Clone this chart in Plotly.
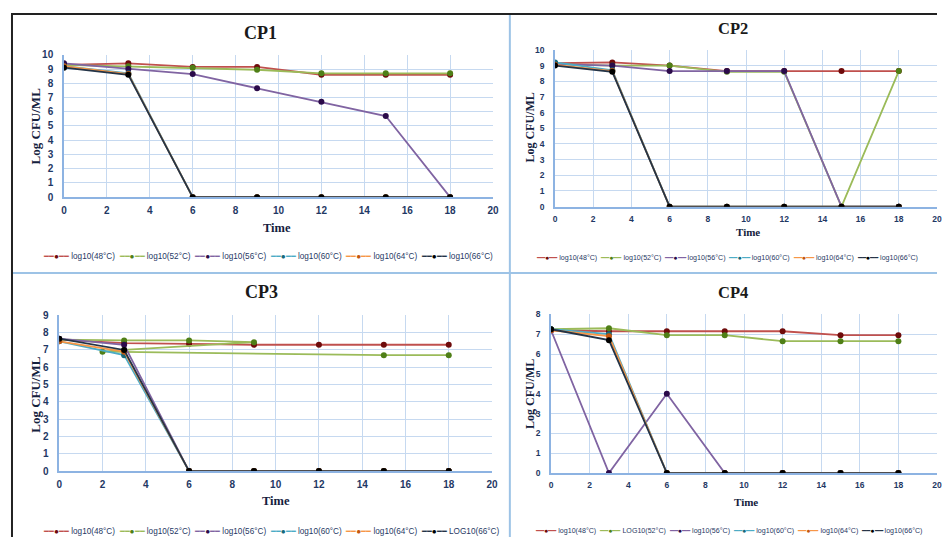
import plotly.graph_objects as go

# ---------------- data ----------------
times = [0, 3, 6, 9, 12, 15, 18]

cp1_48 = [9.3, 9.4, 9.15, 9.15, 8.6, 8.6, 8.6]
cp1_52 = [9.3, 9.2, 9.1, 8.95, 8.7, 8.7, 8.7]
cp1_56 = [9.4, 9.0, 8.65, 7.65, 6.7, 5.7, 0]
cp1_60 = [9.2, 8.7, 0, 0, 0, 0, 0]
cp1_64 = [9.2, 8.65, 0, 0, 0, 0, 0]
cp1_66 = [9.1, 8.6, 0, 0, 0, 0, 0]

cp2_48 = [9.15, 9.2, 9.0, 8.65, 8.65, 8.65, 8.65]
cp2_52 = [9.1, 9.0, 9.0, 8.6, 8.6, 0, 8.65]
cp2_56 = [9.1, 9.0, 8.65, 8.65, 8.65, 0, 0]
cp2_60 = [9.2, 8.7, 0, 0, 0, 0, 0]
cp2_64 = [9.05, 8.65, 0, 0, 0, 0, 0]
cp2_66 = [9.0, 8.6, 0, 0, 0, 0, 0]

cp3_48 = [7.6, 7.4, 7.35, 7.3, 7.3, 7.3, 7.3]
cp3_52_times = [0, 3, 6, 9, 3, 2, 15, 18]
cp3_52 = [7.6, 7.55, 7.55, 7.45, 7.0, 6.9, 6.7, 6.7]
cp3_56 = [7.65, 7.3, 0, 0, 0, 0, 0]
cp3_60 = [7.5, 6.7, 0, 0, 0, 0, 0]
cp3_64 = [7.5, 6.9, 0, 0, 0, 0, 0]
cp3_66 = [7.65, 7.0, 0, 0, 0, 0, 0]

cp4_48 = [7.2, 7.15, 7.15, 7.15, 7.15, 6.95, 6.95]
cp4_52 = [7.25, 7.3, 6.95, 6.95, 6.65, 6.65, 6.65]
cp4_56 = [7.2, 0, 4.0, 0, 0, 0, 0]
cp4_60 = [7.25, 7.0, 0, 0, 0, 0, 0]
cp4_64 = [7.2, 6.9, 0, 0, 0, 0, 0]
cp4_66 = [7.25, 6.7, 0, 0, 0, 0, 0]

labels_std = ["log10(48°C)", "log10(52°C)", "log10(56°C)",
              "log10(60°C)", "log10(64°C)", "log10(66°C)"]
labels_cp3 = ["log10(48°C)", "log10(52°C)", "log10(56°C)",
              "log10(60°C)", "log10(64°C)", "LOG10(66°C)"]
labels_cp4 = ["log10(48°C)", "LOG10(52°C)", "log10(56°C)",
              "log10(60°C)", "log10(64°C)", "log10(66°C)"]

titles = ["CP1", "CP2", "CP3", "CP4"]
y_max = [10, 10, 9, 8]

# ---------------- styles ----------------
line_colors = ['#c0504d', '#9bbb59', '#8064a2', '#4bacc6', '#f79646', '#243447']
marker_colors = ['#6e0b0b', '#4f7f17', '#2b0b4a', '#17697c', '#c4580f', '#000000']

# page body keeps an 8px margin, so the figure is laid out 8px in
OFF = 8
W, H = 935, 535
def fx(p):
    return min(1.0, max(0.0, (p - OFF) / W))
def fy(p):
    return min(1.0, max(0.0, 1 - (p - OFF) / H))

panels = [
    dict(series=[(times, cp1_48), (times, cp1_52), (times, cp1_56),
                 (times, cp1_60), (times, cp1_64), (times, cp1_66)],
         labels=labels_std, box=(61.5, 494.7, 196.0, 50.7), big=True,
         title=(260, 28), ytitle=(33, 123), xtitle=(277, 228),
         legend=(38, 257)),
    dict(series=[(times, cp2_48), (times, cp2_52), (times, cp2_56),
                 (times, cp2_60), (times, cp2_64), (times, cp2_66)],
         labels=labels_std, box=(557.3, 946.0, 205.7, 45.7), big=False,
         title=(737, 24), ytitle=(532, 125), xtitle=(752, 232),
         legend=(536, 258)),
    dict(series=[(times, cp3_48), (cp3_52_times, cp3_52), (times, cp3_56),
                 (times, cp3_60), (times, cp3_64), (times, cp3_66)],
         labels=labels_cp3, box=(56.7, 493.7, 475.7, 316.7), big=True,
         title=(261, 293), ytitle=(32, 397), xtitle=(276, 506),
         legend=(38, 537)),
    dict(series=[(times, cp4_48), (times, cp4_52), (times, cp4_56),
                 (times, cp4_60), (times, cp4_64), (times, cp4_66)],
         labels=labels_cp4, box=(553.3, 946.0, 477.7, 315.7), big=False,
         title=(737, 293), ytitle=(532, 397), xtitle=(750, 507),
         legend=(535, 537)),
]

fig = go.Figure()
annotations = []
tick_color = '#1f3864'
grid_color = '#c6d9f0'
axis_color = '#8db3e2'

for i, p in enumerate(panels):
    sfx = '' if i == 0 else str(i + 1)
    for k, (xs, ys) in enumerate(p['series']):
        fig.add_trace(go.Scatter(
            x=xs, y=ys, mode='lines+markers', showlegend=False,
            name=p['labels'][k],
            line=dict(color=line_colors[k], width=1.8),
            marker=dict(color=marker_colors[k], size=6),
            xaxis='x' + sfx, yaxis='y' + sfx))
    x0, x1, yb, yt = p['box']
    tf = 10 if p['big'] else 8.5
    fig.layout['xaxis' + sfx] = dict(
        domain=[fx(x0), fx(x1)], range=[0, 20], dtick=2, tick0=0,
        anchor='y' + sfx, showgrid=True, gridcolor=grid_color, gridwidth=1,
        showline=True, linecolor=axis_color, linewidth=1.5, zeroline=False,
        ticks='', ticklabelstandoff=3,
        tickfont=dict(family='Liberation Sans', size=tf, color=tick_color, weight='bold'))
    fig.layout['yaxis' + sfx] = dict(
        domain=[fy(yb), fy(yt)], range=[0, y_max[i]], dtick=1, tick0=0,
        anchor='x' + sfx, showgrid=True, gridcolor=grid_color, gridwidth=1,
        showline=True, linecolor=axis_color, linewidth=1.5, zeroline=False,
        ticks='', ticklabelstandoff=7,
        tickfont=dict(family='Liberation Sans', size=tf, color=tick_color, weight='bold'))

    big = p['big']
    annotations.append(dict(
        text='<b>%s</b>' % titles[i], xref='paper', yref='paper',
        x=fx(p['title'][0]), y=fy(p['title'][1]), xanchor='center', yanchor='middle',
        showarrow=False, font=dict(family='Liberation Serif', size=18 if big else 16.5, color='#1a1a1a')))
    annotations.append(dict(
        text='<b>Log CFU/ML</b>', xref='paper', yref='paper', textangle=-90,
        x=fx(p['ytitle'][0]), y=fy(p['ytitle'][1]), xanchor='center', yanchor='middle',
        showarrow=False, font=dict(family='Liberation Serif', size=13 if big else 12, color='#14213d')))
    annotations.append(dict(
        text='<b>Time</b>', xref='paper', yref='paper',
        x=fx(p['xtitle'][0]), y=fy(p['xtitle'][1]), xanchor='center', yanchor='middle',
        showarrow=False, font=dict(family='Liberation Serif', size=12.5 if big else 11, color='#14213d')))

    items = []
    for k, lab in enumerate(p['labels']):
        items.append(
            "<span style='color:%s'>━━</span><span style='color:%s'>●</span>"
            "<span style='color:%s'>━━</span>\u00a0%s" % (line_colors[k], marker_colors[k], line_colors[k], lab))
    annotations.append(dict(
        text='\u00a0\u00a0'.join(items), xref='paper', yref='paper',
        x=fx(p['legend'][0]), y=fy(p['legend'][1]), xanchor='left', yanchor='middle',
        showarrow=False, font=dict(family='Liberation Sans', size=8.2 if big else 7.1, color=tick_color)))

shapes = [
    dict(type='line', xref='paper', yref='paper', x0=fx(511.7), x1=fx(511.7), y0=fy(8), y1=0,
         line=dict(color='#9dc3e6', width=2)),
    dict(type='line', xref='paper', yref='paper', x0=fx(8.5), x1=1, y0=fy(273.5), y1=fy(273.5),
         line=dict(color='#9dc3e6', width=2)),
    dict(type='line', xref='paper', yref='paper', x0=0, x1=1, y0=fy(9), y1=fy(9),
         line=dict(color='#222222', width=2)),
    dict(type='line', xref='paper', yref='paper', x0=fx(9), x1=fx(9), y0=fy(9), y1=0,
         line=dict(color='#222222', width=2)),
]

fig.update_layout(
    width=W, height=H, autosize=False,
    margin=dict(l=0, r=0, t=0, b=0),
    paper_bgcolor='white', plot_bgcolor='white',
    annotations=annotations, shapes=shapes,
)

fig.write_html("out.html")
